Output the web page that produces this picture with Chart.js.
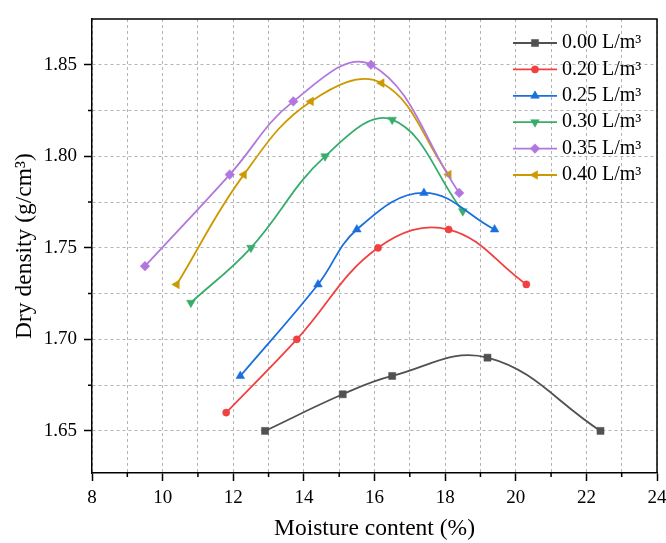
<!DOCTYPE html>
<html><head><meta charset="utf-8">
<script src="https://cdn.jsdelivr.net/npm/chart.js@4.4.1/dist/chart.umd.min.js"></script>
<style>html,body{margin:0;padding:0;background:#fff}#wrap{width:666px;height:543px;position:relative}</style>
</head><body><div id="wrap"><canvas id="c"></canvas></div>
<script>
// ---- data ----
const seriesNames = ['0.00 L/m³', '0.20 L/m³', '0.25 L/m³', '0.30 L/m³', '0.35 L/m³', '0.40 L/m³'];
const moisture000 = [12.9, 15.1, 16.5, 19.2, 22.4];
const density000  = [1.65, 1.67, 1.68, 1.69, 1.65];
const moisture020 = [11.8, 13.8, 16.1, 18.1, 20.3];
const density020  = [1.66, 1.70, 1.75, 1.76, 1.73];
const moisture025 = [12.2, 14.4, 15.5, 17.4, 19.4];
const density025  = [1.68, 1.73, 1.76, 1.78, 1.76];
const moisture030 = [10.8, 12.5, 14.6, 16.5, 18.5];
const density030  = [1.72, 1.75, 1.80, 1.82, 1.77];
const moisture035 = [9.5, 11.9, 13.7, 15.9, 18.4];
const density035  = [1.74, 1.79, 1.83, 1.85, 1.78];
const moisture040 = [10.4, 12.3, 14.2, 16.2, 18.1];
const density040  = [1.73, 1.79, 1.83, 1.84, 1.79];
const xTickValues = [8, 9, 10, 11, 12, 13, 14, 15, 16, 17, 18, 19, 20, 21, 22, 23, 24];
const xTickLabels = ['8', '', '10', '', '12', '', '14', '', '16', '', '18', '', '20', '', '22', '', '24'];
const yTickValues = [1.65, 1.675, 1.70, 1.725, 1.75, 1.775, 1.80, 1.825, 1.85];
const yTickLabels = ['1.65', '', '1.70', '', '1.75', '', '1.80', '', '1.85'];
const xTitle = 'Moisture content (%)';
const yTitle = 'Dry density (g/cm³)';

// ---- styles ----
const colors = ['#515151', '#F14040', '#1A6FDF', '#37AD6B', '#B177DE', '#CC9900'];
const styles = [
  {pointStyle: 'rect', rotation: 0, radius: 5},
  {pointStyle: 'circle', rotation: 0, radius: 3.6},
  {pointStyle: 'triangle', rotation: 0, radius: 5},
  {pointStyle: 'triangle', rotation: 180, radius: 5},
  {pointStyle: 'rectRot', rotation: 0, radius: 4.8},
  {pointStyle: 'triangle', rotation: -90, radius: 5}
];
const xs = [moisture000, moisture020, moisture025, moisture030, moisture035, moisture040];
const ys = [density000, density020, density025, density030, density035, density040];
const FONT = '"Liberation Serif", "Times New Roman", serif';

const datasets = seriesNames.map((name, i) => ({
  label: name,
  data: xs[i].map((x, j) => ({x: x, y: ys[i][j]})),
  borderColor: colors[i],
  backgroundColor: colors[i],
  borderWidth: 1.8,
  showLine: true,
  tension: 0.4,
  pointStyle: styles[i].pointStyle,
  rotation: styles[i].rotation,
  pointRadius: styles[i].radius,
  pointHoverRadius: styles[i].radius,
  pointBorderWidth: 0.5,
  fill: false
}));

const isMajorX = v => Math.abs(v % 2) < 1e-6;
const isMajorY = v => Math.abs(Math.round(v * 20) - v * 20) < 1e-6;

const framePlugin = {
  id: 'frame',
  afterDraw(chart) {
    const {ctx, chartArea: a, scales} = chart;
    ctx.save();
    ctx.strokeStyle = '#000';
    ctx.lineWidth = 1.5;
    ctx.beginPath();
    ctx.moveTo(a.left, a.top); ctx.lineTo(a.right, a.top); ctx.lineTo(a.right, a.bottom);
    ctx.stroke();
    // minor ticks
    ctx.beginPath();
    xTickValues.forEach(v => {
      if (!isMajorX(v)) {
        const px = scales.x.getPixelForValue(v);
        ctx.moveTo(px, a.bottom); ctx.lineTo(px, a.bottom + 4);
      }
    });
    yTickValues.forEach(v => {
      if (!isMajorY(v)) {
        const py = scales.y.getPixelForValue(v);
        ctx.moveTo(a.left - 4, py); ctx.lineTo(a.left, py);
      }
    });
    ctx.stroke();
    ctx.restore();
  }
};

const legendPlugin = {
  id: 'insideLegend',
  afterDraw(chart) {
    const {ctx, chartArea: a} = chart;
    const x0 = a.right - 144, lineLen = 44, gap = 5;
    const top = a.top + 24, step = 26.4;
    ctx.save();
    chart.data.datasets.forEach((ds, i) => {
      const y = top + i * step;
      ctx.strokeStyle = ds.borderColor;
      ctx.lineWidth = 1.8;
      ctx.beginPath(); ctx.moveTo(x0, y); ctx.lineTo(x0 + lineLen, y); ctx.stroke();
      ctx.fillStyle = ds.backgroundColor;
      ctx.lineWidth = 0.5;
      const opts = {pointStyle: ds.pointStyle, rotation: ds.rotation, radius: ds.pointRadius, borderWidth: 0.5};
      Chart.helpers.drawPoint(ctx, opts, x0 + lineLen / 2, y);
      ctx.fillStyle = '#000';
      ctx.font = '20px ' + FONT;
      ctx.textBaseline = 'middle';
      ctx.textAlign = 'left';
      ctx.fillText(ds.label, x0 + lineLen + gap, y);
    });
    ctx.restore();
  }
};

new Chart(document.getElementById('c'), {
  type: 'scatter',
  data: {datasets},
  plugins: [framePlugin, legendPlugin],
  options: {
    responsive: true,
    maintainAspectRatio: false,
    animation: false,
    layout: {padding: {left: 0, right: 9, top: 19, bottom: 0}},
    plugins: {legend: {display: false}, tooltip: {enabled: false}},
    scales: {
      x: {
        type: 'linear', min: 8, max: 24,
        afterBuildTicks: s => { s.ticks = xTickValues.map(v => ({value: v})); },
        afterFit: s => { s.height = 70; s.paddingLeft = 0; s.paddingRight = 0; },
        ticks: {
          callback: (v, i) => xTickLabels[i],
          autoSkip: false, maxRotation: 0, color: '#000', padding: 6,
          font: {family: FONT, size: 19}
        },
        grid: {
          color: '#b4b4b4', lineWidth: 1, tickLength: 8, tickWidth: 1.5,
          tickColor: c => isMajorX(c.tick.value) ? '#000' : 'rgba(0,0,0,0)'
        },
        border: {display: true, color: '#000', width: 1.5, dash: [3, 3]},
        title: {display: true, text: xTitle, color: '#000', font: {family: FONT, size: 23.5}, padding: {top: 0, bottom: 0}}
      },
      y: {
        type: 'linear', min: 1.627, max: 1.875,
        afterBuildTicks: s => { s.ticks = yTickValues.map(v => ({value: v})); },
        afterFit: s => { s.width = 92; s.paddingTop = 0; s.paddingBottom = 0; },
        ticks: {
          callback: (v, i) => yTickLabels[i],
          autoSkip: false, color: '#000', padding: 7,
          font: {family: FONT, size: 19}
        },
        grid: {
          color: '#b4b4b4', lineWidth: 1, tickLength: 8, tickWidth: 1.5,
          tickColor: c => isMajorY(c.tick.value) ? '#000' : 'rgba(0,0,0,0)'
        },
        border: {display: true, color: '#000', width: 1.5, dash: [3, 3]},
        title: {display: true, text: yTitle, color: '#000', font: {family: FONT, size: 23.5}, padding: {top: 11, bottom: 0}}
      }
    }
  }
});
</script>
</body></html>
